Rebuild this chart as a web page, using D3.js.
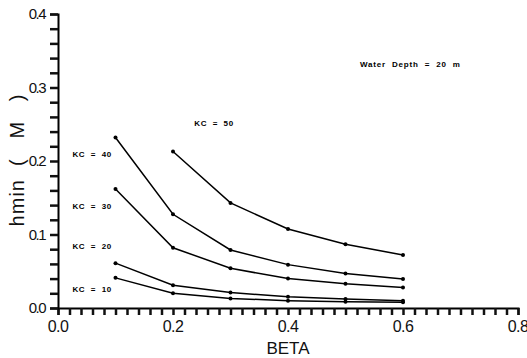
<!DOCTYPE html>
<html>
<head>
<meta charset="utf-8">
<script src="https://cdn.jsdelivr.net/npm/d3@7"></script>
<style>
  body { margin: 0; background: #fff; }
  svg { display: block; }
</style>
</head>
<body>
<div id="chart"></div>
<script>
// chart size
var w = 527,
    h = 358;

// data
var beta = [0.1, 0.2, 0.3, 0.4, 0.5, 0.6];
var kc10 = [0.041, 0.020, 0.013, 0.010, 0.0086, 0.0078];
var kc20 = [0.061, 0.031, 0.021, 0.0154, 0.0122, 0.010];
var kc30 = [0.162, 0.082, 0.054, 0.040, 0.033, 0.028];
var kc40 = [0.232, 0.1275, 0.079, 0.059, 0.047, 0.0394];
var kc50 = [null, 0.213, 0.143, 0.1075, 0.0866, 0.072];
var seriesNames = ["KC = 10", "KC = 20", "KC = 30", "KC = 40", "KC = 50"];
var xTickLabels = ["0.0", "0.2", "0.4", "0.6", "0.8"];
var yTickLabels = ["0.0", "0.1", "0.2", "0.3", "0.4"];

var series = [kc10, kc20, kc30, kc40, kc50];

var svg = d3.select("#chart")
    .append("svg")
    .attr("width", w)
    .attr("height", h);

var x = d3.scaleLinear()
    .domain([0, 0.8])
    .range([58, 518]);

var y = d3.scaleLinear()
    .domain([0, 0.4])
    .range([308, 14]);

var font = "'Liberation Sans', Arial, sans-serif";

// axes: d3 axis with minor ticks every 0.02
var xAxis = d3.axisBottom(x)
    .tickValues(d3.range(0, 41).map(function(i) { return i * 0.02; }))
    .tickSize(7)
    .tickFormat("");
var yAxis = d3.axisLeft(y)
    .tickValues(d3.range(0, 21).map(function(i) { return i * 0.02; }))
    .tickSize(8)
    .tickFormat("");

var gx = svg.append("g")
    .attr("transform", "translate(0," + y(0) + ")")
    .call(xAxis);
var gy = svg.append("g")
    .attr("transform", "translate(" + x(0) + ",0)")
    .call(yAxis);

gx.selectAll("line").attr("stroke", "#111").attr("stroke-width", 2.5);
gy.selectAll("line").attr("stroke", "#111").attr("stroke-width", 2.5);
gx.select(".domain").attr("stroke", "#000").attr("stroke-width", 2);
gy.select(".domain").attr("stroke", "#000").attr("stroke-width", 2);

// tick labels
svg.selectAll(".xl")
    .data(xTickLabels)
    .enter()
    .append("text")
    .attr("class", "xl")
    .attr("x", function(d, i) { return x(i * 0.2); })
    .attr("y", 332)
    .attr("text-anchor", "middle")
    .style("font-family", font)
    .style("font-size", "16px")
    .attr("letter-spacing", "-0.5px")
    .attr("fill", "#111")
    .text(function(d) { return d; });

svg.selectAll(".yl")
    .data(yTickLabels)
    .enter()
    .append("text")
    .attr("class", "yl")
    .attr("x", 45)
    .attr("y", function(d, i) { return y(i * 0.1); })
    .attr("dy", "0.35em")
    .attr("text-anchor", "end")
    .style("font-family", font)
    .style("font-size", "15px")
    .attr("letter-spacing", "-1.5px")
    .attr("fill", "#111")
    .text(function(d) { return d; });

// axis titles
svg.append("text")
    .attr("x", x(0.4))
    .attr("y", 354)
    .attr("text-anchor", "middle")
    .style("font-family", font)
    .style("font-size", "17px")
    .attr("fill", "#111")
    .text("BETA");

svg.append("text")
    .attr("transform", "translate(24,160) rotate(-90)")
    .attr("text-anchor", "middle")
    .style("font-family", font)
    .style("font-size", "20px")
    .attr("letter-spacing", "1px")
    .attr("fill", "#111")
    .attr("xml:space", "preserve")
    .text("hmin  (   M   )");

// curves
var line = d3.line()
    .defined(function(d) { return d[1] !== null; })
    .x(function(d) { return x(d[0]); })
    .y(function(d) { return y(d[1]); });

series.forEach(function(s) {
    var pts = beta.map(function(b, i) { return [b, s[i]]; });
    svg.append("path")
        .datum(pts)
        .attr("fill", "none")
        .attr("stroke", "#000")
        .attr("stroke-width", 1.5)
        .attr("d", line);
    svg.selectAll(null)
        .data(pts.filter(function(d) { return d[1] !== null; }))
        .enter()
        .append("circle")
        .attr("cx", function(d) { return x(d[0]); })
        .attr("cy", function(d) { return y(d[1]); })
        .attr("r", 2)
        .attr("fill", "#000");
});

// curve labels
var labelPos = [
    [0.025, 0.026],
    [0.025, 0.084],
    [0.025, 0.138],
    [0.025, 0.209],
    [0.237, 0.251]
];
seriesNames.forEach(function(name, i) {
    svg.append("text")
        .attr("x", x(labelPos[i][0]))
        .attr("y", y(labelPos[i][1]))
        .attr("dy", "0.35em")
        .style("font-family", font)
        .style("font-size", "8px")
        .style("font-weight", "bold")
        .attr("letter-spacing", "0.6px")
        .attr("xml:space", "preserve")
        .attr("fill", "#000")
        .text(name.replace(" = ", "  =  "));
});

svg.append("text")
    .attr("x", 360)
    .attr("y", 64)
    .attr("dy", "0.35em")
    .style("font-family", font)
    .style("font-size", "8px")
    .style("font-weight", "bold")
    .attr("letter-spacing", "0.8px")
    .attr("xml:space", "preserve")
    .attr("fill", "#000")
    .text("Water  Depth  =  20  m");
</script>
</body>
</html>
